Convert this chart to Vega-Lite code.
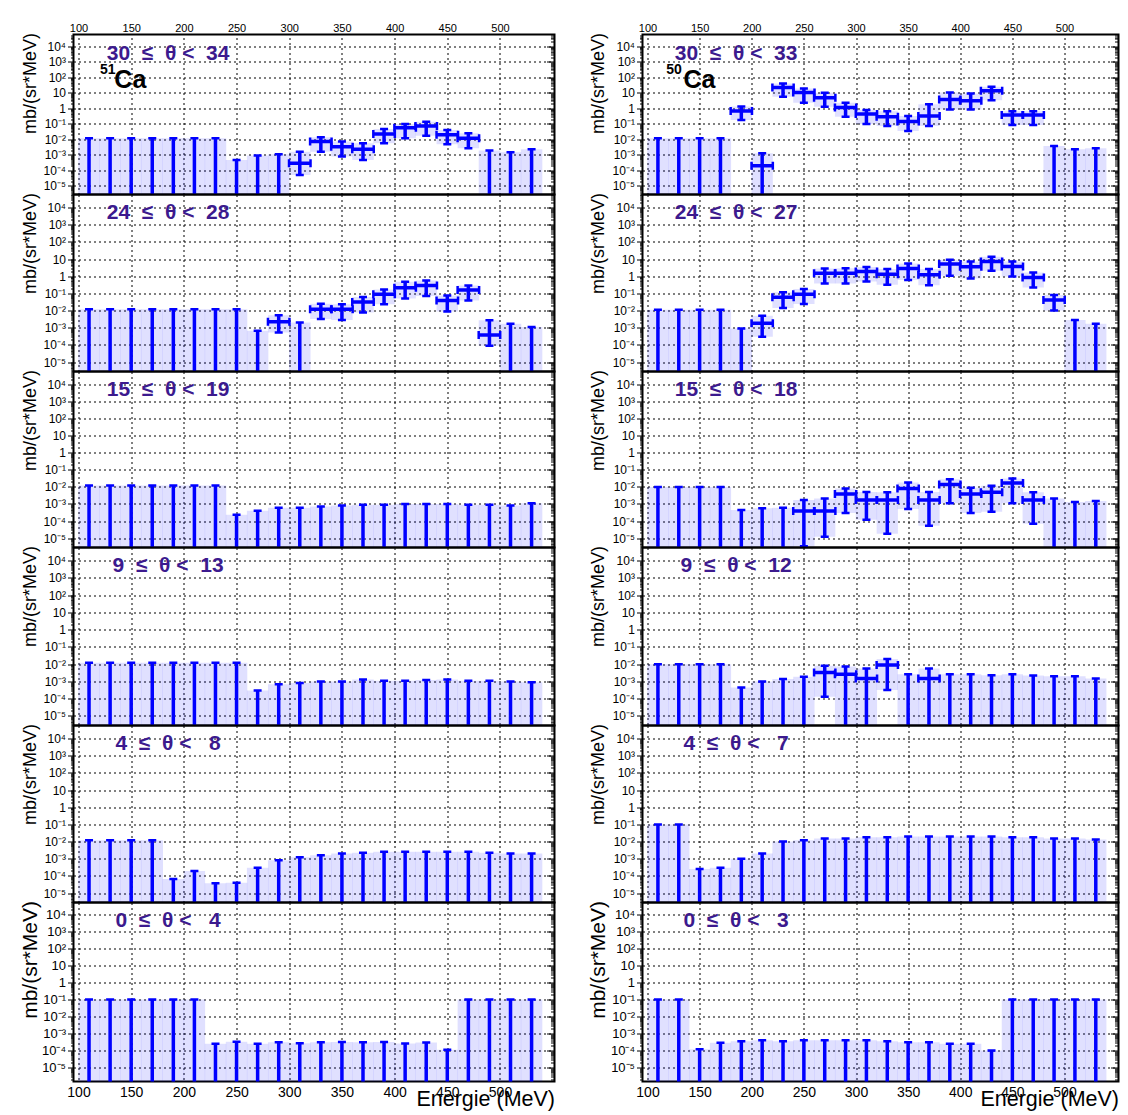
{
"$schema": "https://vega.github.io/schema/vega-lite/v6.json",
"background": "white",
"padding": {"left": 17.5, "top": 21.5, "right": 5, "bottom": 0},
"datasets": {
"labels": [
{"p":"L1","t":"30\u00a0\u00a0≤\u00a0\u00a0θ\u00a0<\u00a0\u00a034","iso":"51","el":"Ca"},
{"p":"L2","t":"24\u00a0\u00a0≤\u00a0\u00a0θ\u00a0<\u00a0\u00a028"},
{"p":"L3","t":"15\u00a0\u00a0≤\u00a0\u00a0θ\u00a0<\u00a0\u00a019"},
{"p":"L4","t":"9\u00a0\u00a0≤\u00a0\u00a0θ\u00a0<\u00a0\u00a013"},
{"p":"L5","t":"4\u00a0\u00a0≤\u00a0\u00a0θ\u00a0<\u00a0\u00a0\u00a08"},
{"p":"L6","t":"0\u00a0\u00a0≤\u00a0\u00a0θ\u00a0<\u00a0\u00a0\u00a04"},
{"p":"R1","t":"30\u00a0\u00a0≤\u00a0\u00a0θ\u00a0<\u00a0\u00a033","iso":"50","el":"Ca"},
{"p":"R2","t":"24\u00a0\u00a0≤\u00a0\u00a0θ\u00a0<\u00a0\u00a027"},
{"p":"R3","t":"15\u00a0\u00a0≤\u00a0\u00a0θ\u00a0<\u00a0\u00a018"},
{"p":"R4","t":"9\u00a0\u00a0≤\u00a0\u00a0θ\u00a0<\u00a0\u00a012"},
{"p":"R5","t":"4\u00a0\u00a0≤\u00a0\u00a0θ\u00a0<\u00a0\u00a0\u00a07"},
{"p":"R6","t":"0\u00a0\u00a0≤\u00a0\u00a0θ\u00a0<\u00a0\u00a0\u00a03"}
],
"bins": [
{"p":"L1","e":110,"lo":1e-7,"hi":0.012},{"p":"L1","e":130,"lo":1e-7,"hi":0.012},{"p":"L1","e":150,"lo":1e-7,"hi":0.012},{"p":"L1","e":170,"lo":1e-7,"hi":0.012},{"p":"L1","e":190,"lo":1e-7,"hi":0.012},{"p":"L1","e":210,"lo":1e-7,"hi":0.012},{"p":"L1","e":230,"lo":1e-7,"hi":0.012},{"p":"L1","e":250,"lo":1e-7,"hi":0.00047},{"p":"L1","e":270,"lo":1e-7,"hi":0.0009},{"p":"L1","e":290,"lo":1e-7,"hi":0.0011},
{"p":"L1","e":310,"v":0.00029,"lo":0.00005,"hi":0.0016},{"p":"L1","e":330,"v":0.0072,"lo":0.0016,"hi":0.014},{"p":"L1","e":350,"v":0.0034,"lo":0.00078,"hi":0.0072},{"p":"L1","e":370,"v":0.0023,"lo":0.00047,"hi":0.0056},{"p":"L1","e":390,"v":0.022,"lo":0.0056,"hi":0.046},{"p":"L1","e":410,"v":0.057,"lo":0.012,"hi":0.1},{"p":"L1","e":430,"v":0.074,"lo":0.017,"hi":0.135},{"p":"L1","e":450,"v":0.02,"lo":0.0049,"hi":0.041},{"p":"L1","e":470,"v":0.012,"lo":0.0027,"hi":0.025},
{"p":"L1","e":490,"lo":1e-7,"hi":0.0019},{"p":"L1","e":510,"lo":1e-7,"hi":0.0015},{"p":"L1","e":530,"lo":1e-7,"hi":0.0023},

{"p":"L2","e":110,"lo":1e-7,"hi":0.012},{"p":"L2","e":130,"lo":1e-7,"hi":0.012},{"p":"L2","e":150,"lo":1e-7,"hi":0.012},{"p":"L2","e":170,"lo":1e-7,"hi":0.012},{"p":"L2","e":190,"lo":1e-7,"hi":0.012},{"p":"L2","e":210,"lo":1e-7,"hi":0.012},{"p":"L2","e":230,"lo":1e-7,"hi":0.012},{"p":"L2","e":250,"lo":1e-7,"hi":0.012},{"p":"L2","e":270,"lo":1e-7,"hi":0.00066},
{"p":"L2","e":290,"v":0.0022,"lo":0.00052,"hi":0.0054},{"p":"L2","e":310,"lo":1e-7,"hi":0.002},{"p":"L2","e":330,"v":0.012,"lo":0.0032,"hi":0.025},{"p":"L2","e":350,"v":0.012,"lo":0.0028,"hi":0.023},{"p":"L2","e":370,"v":0.032,"lo":0.0076,"hi":0.062},{"p":"L2","e":390,"v":0.088,"lo":0.023,"hi":0.17},{"p":"L2","e":410,"v":0.21,"lo":0.051,"hi":0.48},{"p":"L2","e":430,"v":0.29,"lo":0.071,"hi":0.56},{"p":"L2","e":450,"v":0.039,"lo":0.0087,"hi":0.076},{"p":"L2","e":470,"v":0.155,"lo":0.039,"hi":0.29},{"p":"L2","e":490,"v":0.00037,"lo":0.000089,"hi":0.00275},
{"p":"L2","e":510,"lo":1e-7,"hi":0.0017},{"p":"L2","e":530,"lo":1e-7,"hi":0.0011},

{"p":"L3","e":110,"lo":1e-7,"hi":0.012},{"p":"L3","e":130,"lo":1e-7,"hi":0.012},{"p":"L3","e":150,"lo":1e-7,"hi":0.012},{"p":"L3","e":170,"lo":1e-7,"hi":0.012},{"p":"L3","e":190,"lo":1e-7,"hi":0.012},{"p":"L3","e":210,"lo":1e-7,"hi":0.012},{"p":"L3","e":230,"lo":1e-7,"hi":0.012},{"p":"L3","e":250,"lo":1e-7,"hi":0.00023},{"p":"L3","e":270,"lo":1e-7,"hi":0.0004},{"p":"L3","e":290,"lo":1e-7,"hi":0.0006},{"p":"L3","e":310,"lo":1e-7,"hi":0.0006},{"p":"L3","e":330,"lo":1e-7,"hi":0.0007},{"p":"L3","e":350,"lo":1e-7,"hi":0.0008},{"p":"L3","e":370,"lo":1e-7,"hi":0.0009},{"p":"L3","e":390,"lo":1e-7,"hi":0.0009},{"p":"L3","e":410,"lo":1e-7,"hi":0.001},{"p":"L3","e":430,"lo":1e-7,"hi":0.001},{"p":"L3","e":450,"lo":1e-7,"hi":0.001},{"p":"L3","e":470,"lo":1e-7,"hi":0.0009},{"p":"L3","e":490,"lo":1e-7,"hi":0.0009},{"p":"L3","e":510,"lo":1e-7,"hi":0.0008},{"p":"L3","e":530,"lo":1e-7,"hi":0.0011},

{"p":"L4","e":110,"lo":1e-7,"hi":0.012},{"p":"L4","e":130,"lo":1e-7,"hi":0.012},{"p":"L4","e":150,"lo":1e-7,"hi":0.012},{"p":"L4","e":170,"lo":1e-7,"hi":0.012},{"p":"L4","e":190,"lo":1e-7,"hi":0.012},{"p":"L4","e":210,"lo":1e-7,"hi":0.012},{"p":"L4","e":230,"lo":1e-7,"hi":0.012},{"p":"L4","e":250,"lo":1e-7,"hi":0.012},{"p":"L4","e":270,"lo":1e-7,"hi":0.0003},{"p":"L4","e":290,"lo":1e-7,"hi":0.0007},{"p":"L4","e":310,"lo":1e-7,"hi":0.0008},{"p":"L4","e":330,"lo":1e-7,"hi":0.001},{"p":"L4","e":350,"lo":1e-7,"hi":0.001},{"p":"L4","e":370,"lo":1e-7,"hi":0.0013},{"p":"L4","e":390,"lo":1e-7,"hi":0.0011},{"p":"L4","e":410,"lo":1e-7,"hi":0.0011},{"p":"L4","e":430,"lo":1e-7,"hi":0.0012},{"p":"L4","e":450,"lo":1e-7,"hi":0.0013},{"p":"L4","e":470,"lo":1e-7,"hi":0.0011},{"p":"L4","e":490,"lo":1e-7,"hi":0.0011},{"p":"L4","e":510,"lo":1e-7,"hi":0.001},{"p":"L4","e":530,"lo":1e-7,"hi":0.0009},

{"p":"L5","e":110,"lo":1e-7,"hi":0.012},{"p":"L5","e":130,"lo":1e-7,"hi":0.012},{"p":"L5","e":150,"lo":1e-7,"hi":0.012},{"p":"L5","e":170,"lo":1e-7,"hi":0.012},{"p":"L5","e":190,"lo":1e-7,"hi":0.000065},{"p":"L5","e":210,"lo":1e-7,"hi":0.00019},{"p":"L5","e":230,"lo":1e-7,"hi":0.000037},{"p":"L5","e":250,"lo":1e-7,"hi":0.00004},{"p":"L5","e":270,"lo":1e-7,"hi":0.0003},{"p":"L5","e":290,"lo":1e-7,"hi":0.0008},{"p":"L5","e":310,"lo":1e-7,"hi":0.0012},{"p":"L5","e":330,"lo":1e-7,"hi":0.0016},{"p":"L5","e":350,"lo":1e-7,"hi":0.002},{"p":"L5","e":370,"lo":1e-7,"hi":0.0022},{"p":"L5","e":390,"lo":1e-7,"hi":0.0025},{"p":"L5","e":410,"lo":1e-7,"hi":0.0025},{"p":"L5","e":430,"lo":1e-7,"hi":0.0025},{"p":"L5","e":450,"lo":1e-7,"hi":0.0025},{"p":"L5","e":470,"lo":1e-7,"hi":0.0025},{"p":"L5","e":490,"lo":1e-7,"hi":0.0022},{"p":"L5","e":510,"lo":1e-7,"hi":0.002},{"p":"L5","e":530,"lo":1e-7,"hi":0.002},

{"p":"L6","e":110,"lo":1e-7,"hi":0.1},{"p":"L6","e":130,"lo":1e-7,"hi":0.1},{"p":"L6","e":150,"lo":1e-7,"hi":0.1},{"p":"L6","e":170,"lo":1e-7,"hi":0.1},{"p":"L6","e":190,"lo":1e-7,"hi":0.1},{"p":"L6","e":210,"lo":1e-7,"hi":0.1},{"p":"L6","e":230,"lo":1e-7,"hi":0.00025},{"p":"L6","e":250,"lo":1e-7,"hi":0.00033},{"p":"L6","e":270,"lo":1e-7,"hi":0.00025},{"p":"L6","e":290,"lo":1e-7,"hi":0.0003},{"p":"L6","e":310,"lo":1e-7,"hi":0.00027},{"p":"L6","e":330,"lo":1e-7,"hi":0.0003},{"p":"L6","e":350,"lo":1e-7,"hi":0.00032},{"p":"L6","e":370,"lo":1e-7,"hi":0.0003},{"p":"L6","e":390,"lo":1e-7,"hi":0.00032},{"p":"L6","e":410,"lo":1e-7,"hi":0.00026},{"p":"L6","e":430,"lo":1e-7,"hi":0.00029},{"p":"L6","e":450,"lo":1e-7,"hi":0.00011},{"p":"L6","e":470,"lo":1e-7,"hi":0.1},{"p":"L6","e":490,"lo":1e-7,"hi":0.1},{"p":"L6","e":510,"lo":1e-7,"hi":0.1},{"p":"L6","e":530,"lo":1e-7,"hi":0.1},

{"p":"R1","e":110,"lo":1e-7,"hi":0.012},{"p":"R1","e":130,"lo":1e-7,"hi":0.012},{"p":"R1","e":150,"lo":1e-7,"hi":0.012},{"p":"R1","e":170,"lo":1e-7,"hi":0.012},
{"p":"R1","e":190,"v":0.69,"lo":0.18,"hi":1.3},{"p":"R1","e":210,"v":0.0002,"lo":0.000001,"hi":0.0013},{"p":"R1","e":230,"v":22,"lo":5.6,"hi":40},{"p":"R1","e":250,"v":10.5,"lo":2.3,"hi":19},{"p":"R1","e":270,"v":4.8,"lo":1.26,"hi":10},{"p":"R1","e":290,"v":1.15,"lo":0.29,"hi":2.3},{"p":"R1","e":310,"v":0.43,"lo":0.098,"hi":0.78},{"p":"R1","e":330,"v":0.29,"lo":0.072,"hi":0.66},{"p":"R1","e":350,"v":0.14,"lo":0.035,"hi":0.32},{"p":"R1","e":370,"v":0.32,"lo":0.072,"hi":1.86},{"p":"R1","e":390,"v":3.7,"lo":0.85,"hi":10.5},{"p":"R1","e":410,"v":3.1,"lo":0.85,"hi":9.1},{"p":"R1","e":430,"v":13.5,"lo":3.4,"hi":24.5},{"p":"R1","e":450,"v":0.37,"lo":0.085,"hi":0.66},{"p":"R1","e":470,"v":0.37,"lo":0.085,"hi":0.66},
{"p":"R1","e":490,"lo":1e-7,"hi":0.0038},{"p":"R1","e":510,"lo":1e-7,"hi":0.0023},{"p":"R1","e":530,"lo":1e-7,"hi":0.0027},

{"p":"R2","e":110,"lo":1e-7,"hi":0.011},{"p":"R2","e":130,"lo":1e-7,"hi":0.011},{"p":"R2","e":150,"lo":1e-7,"hi":0.011},{"p":"R2","e":170,"lo":1e-7,"hi":0.011},{"p":"R2","e":190,"lo":1e-7,"hi":0.0009},
{"p":"R2","e":210,"v":0.0018,"lo":0.0003,"hi":0.005},{"p":"R2","e":230,"v":0.059,"lo":0.014,"hi":0.115},{"p":"R2","e":250,"v":0.09,"lo":0.024,"hi":0.18},{"p":"R2","e":270,"v":1.5,"lo":0.38,"hi":2.8},{"p":"R2","e":290,"v":1.5,"lo":0.38,"hi":2.9},{"p":"R2","e":310,"v":1.9,"lo":0.5,"hi":3.5},{"p":"R2","e":330,"v":1.3,"lo":0.32,"hi":2.6},{"p":"R2","e":350,"v":2.8,"lo":0.6,"hi":5.5},{"p":"R2","e":370,"v":1.2,"lo":0.3,"hi":2.6},{"p":"R2","e":390,"v":5.1,"lo":1.07,"hi":9.1},{"p":"R2","e":410,"v":3.6,"lo":0.74,"hi":7.2},{"p":"R2","e":430,"v":7.3,"lo":2.1,"hi":13.5},{"p":"R2","e":450,"v":3.7,"lo":0.95,"hi":7.2},{"p":"R2","e":470,"v":0.85,"lo":0.22,"hi":1.65},{"p":"R2","e":490,"v":0.041,"lo":0.01,"hi":0.08},
{"p":"R2","e":510,"lo":1e-7,"hi":0.0028},{"p":"R2","e":530,"lo":1e-7,"hi":0.0017},

{"p":"R3","e":110,"lo":1e-7,"hi":0.01},{"p":"R3","e":130,"lo":1e-7,"hi":0.01},{"p":"R3","e":150,"lo":1e-7,"hi":0.01},{"p":"R3","e":170,"lo":1e-7,"hi":0.01},{"p":"R3","e":190,"lo":1e-7,"hi":0.00044},{"p":"R3","e":210,"lo":1e-7,"hi":0.00056},{"p":"R3","e":230,"lo":1e-7,"hi":0.0006},
{"p":"R3","e":250,"v":0.00039,"lo":0.0000033,"hi":0.0017},{"p":"R3","e":270,"v":0.00039,"lo":0.000012,"hi":0.0021},{"p":"R3","e":290,"v":0.0038,"lo":0.00029,"hi":0.0081},{"p":"R3","e":310,"v":0.0017,"lo":0.00012,"hi":0.0051},{"p":"R3","e":330,"v":0.0017,"lo":0.000018,"hi":0.0048},{"p":"R3","e":350,"v":0.0081,"lo":0.00051,"hi":0.018},{"p":"R3","e":370,"v":0.0017,"lo":0.000052,"hi":0.0051},{"p":"R3","e":390,"v":0.014,"lo":0.0011,"hi":0.028},{"p":"R3","e":410,"v":0.0038,"lo":0.00029,"hi":0.0089},{"p":"R3","e":430,"v":0.0048,"lo":0.00035,"hi":0.0115},{"p":"R3","e":450,"v":0.017,"lo":0.0011,"hi":0.031},{"p":"R3","e":470,"v":0.0017,"lo":0.000069,"hi":0.0048},
{"p":"R3","e":490,"lo":1e-7,"hi":0.0021},{"p":"R3","e":510,"lo":1e-7,"hi":0.0013},{"p":"R3","e":530,"lo":1e-7,"hi":0.0015},

{"p":"R4","e":110,"lo":1e-7,"hi":0.01},{"p":"R4","e":130,"lo":1e-7,"hi":0.01},{"p":"R4","e":150,"lo":1e-7,"hi":0.01},{"p":"R4","e":170,"lo":1e-7,"hi":0.01},{"p":"R4","e":190,"lo":1e-7,"hi":0.00045},{"p":"R4","e":210,"lo":1e-7,"hi":0.001},{"p":"R4","e":230,"lo":1e-7,"hi":0.0014},{"p":"R4","e":250,"lo":1e-7,"hi":0.0019},
{"p":"R4","e":270,"v":0.0033,"lo":0.00013,"hi":0.0081},{"p":"R4","e":290,"v":0.0026,"lo":0.000001,"hi":0.0074},{"p":"R4","e":310,"v":0.0015,"lo":0.000001,"hi":0.0056},{"p":"R4","e":330,"v":0.0089,"lo":0.00032,"hi":0.02},{"p":"R4","e":350,"lo":1e-7,"hi":0.0026},{"p":"R4","e":370,"v":0.0015,"lo":0.000001,"hi":0.0056},
{"p":"R4","e":390,"lo":1e-7,"hi":0.0026},{"p":"R4","e":410,"lo":1e-7,"hi":0.0026},{"p":"R4","e":430,"lo":1e-7,"hi":0.0023},{"p":"R4","e":450,"lo":1e-7,"hi":0.0026},{"p":"R4","e":470,"lo":1e-7,"hi":0.0022},{"p":"R4","e":490,"lo":1e-7,"hi":0.002},{"p":"R4","e":510,"lo":1e-7,"hi":0.002},{"p":"R4","e":530,"lo":1e-7,"hi":0.0015},

{"p":"R5","e":110,"lo":1e-7,"hi":0.1},{"p":"R5","e":130,"lo":1e-7,"hi":0.1},{"p":"R5","e":150,"lo":1e-7,"hi":0.00025},{"p":"R5","e":170,"lo":1e-7,"hi":0.0003},{"p":"R5","e":190,"lo":1e-7,"hi":0.001},{"p":"R5","e":210,"lo":1e-7,"hi":0.002},{"p":"R5","e":230,"lo":1e-7,"hi":0.01},{"p":"R5","e":250,"lo":1e-7,"hi":0.012},{"p":"R5","e":270,"lo":1e-7,"hi":0.015},{"p":"R5","e":290,"lo":1e-7,"hi":0.015},{"p":"R5","e":310,"lo":1e-7,"hi":0.018},{"p":"R5","e":330,"lo":1e-7,"hi":0.018},{"p":"R5","e":350,"lo":1e-7,"hi":0.02},{"p":"R5","e":370,"lo":1e-7,"hi":0.02},{"p":"R5","e":390,"lo":1e-7,"hi":0.02},{"p":"R5","e":410,"lo":1e-7,"hi":0.02},{"p":"R5","e":430,"lo":1e-7,"hi":0.02},{"p":"R5","e":450,"lo":1e-7,"hi":0.018},{"p":"R5","e":470,"lo":1e-7,"hi":0.018},{"p":"R5","e":490,"lo":1e-7,"hi":0.015},{"p":"R5","e":510,"lo":1e-7,"hi":0.015},{"p":"R5","e":530,"lo":1e-7,"hi":0.013},

{"p":"R6","e":110,"lo":1e-7,"hi":0.1},{"p":"R6","e":130,"lo":1e-7,"hi":0.1},{"p":"R6","e":150,"lo":1e-7,"hi":0.00012},{"p":"R6","e":170,"lo":1e-7,"hi":0.00028},{"p":"R6","e":190,"lo":1e-7,"hi":0.00035},{"p":"R6","e":210,"lo":1e-7,"hi":0.0004},{"p":"R6","e":230,"lo":1e-7,"hi":0.00035},{"p":"R6","e":250,"lo":1e-7,"hi":0.0004},{"p":"R6","e":270,"lo":1e-7,"hi":0.0004},{"p":"R6","e":290,"lo":1e-7,"hi":0.0004},{"p":"R6","e":310,"lo":1e-7,"hi":0.0004},{"p":"R6","e":330,"lo":1e-7,"hi":0.00035},{"p":"R6","e":350,"lo":1e-7,"hi":0.0003},{"p":"R6","e":370,"lo":1e-7,"hi":0.0003},{"p":"R6","e":390,"lo":1e-7,"hi":0.00025},{"p":"R6","e":410,"lo":1e-7,"hi":0.00025},{"p":"R6","e":430,"lo":1e-7,"hi":0.0001},{"p":"R6","e":450,"lo":1e-7,"hi":0.1},{"p":"R6","e":470,"lo":1e-7,"hi":0.1},{"p":"R6","e":490,"lo":1e-7,"hi":0.1},{"p":"R6","e":510,"lo":1e-7,"hi":0.1},{"p":"R6","e":530,"lo":1e-7,"hi":0.1}
]
},
"data": {"name": "bins"},
"columns": 2,
"spacing": {"row": 0, "column": 88},
"bounds": "flush",
"concat": [
{"width":481,"height":160,"transform":[{"filter":"datum.p=='L1'"}],"resolve":{"axis":{"x":"independent","y":"independent"}},
"layer":[
{"mark":{"type":"bar","width":21.5,"fill":"#0000ff","fillOpacity":0.12,"clip":true},
"encoding":{"x":{"field":"e","type":"quantitative","scale":{"domain":[100,547],"nice":false,"zero":false},"axis":{"orient":"top","values":[100,150,200,250,300,350,400,450,500],"grid":true,"ticks":false,"labelFontSize":11,"labelPadding":1,"title":null}},
"y":{"field":"hi","type":"quantitative","scale":{"type":"log","domain":[2.8e-6,5.8e4],"nice":false},"axis":{"orient":"left","tickCount":100,"grid":true,"gridOpacity":{"condition":{"test":"abs(log(datum.value)/LN10-round(log(datum.value)/LN10))<0.001","value":1},"value":0},"tickSize":{"condition":{"test":"abs(log(datum.value)/LN10-round(log(datum.value)/LN10))<0.001","value":6},"value":3},"labelExpr":"abs(log(datum.value)/LN10-round(log(datum.value)/LN10))<0.001 ? (round(log(datum.value)/LN10)==0 ? '1' : round(log(datum.value)/LN10)==1 ? '10' : '10'+(datum.value<1 ? '⁻' : '')+['⁰','¹','²','³','⁴','⁵','⁶','⁷','⁸','⁹'][abs(round(log(datum.value)/LN10))]) : ''","labelFontSize":12,"labelPadding":2,"title":"mb/(sr*MeV)","titleFontSize":18,"titleAngle":-90,"titleX":-43,"titleY":-2,"titleAlign":"right","titleBaseline":"middle"}},
"y2":{"field":"lo"}}},
{"mark":{"type":"rule","stroke":"#0000ff","strokeWidth":3.5,"clip":true},"encoding":{"x":{"field":"e","type":"quantitative","axis":null},"y":{"field":"lo","type":"quantitative","axis":{"orient":"right","tickCount":100,"grid":false,"labels":false,"title":null,"offset":-8,"tickSize":8,"tickOpacity":{"condition":{"test":"abs(log(datum.value)/LN10-round(log(datum.value)/LN10))<0.001","value":1},"value":0}}},"y2":{"field":"hi"}}},
{"transform":[{"filter":"isValid(datum.v)"}],"mark":{"type":"tick","orient":"horizontal","size":21.5,"thickness":3.5,"clip":true},"encoding":{"x":{"field":"e","type":"quantitative","axis":null},"y":{"field":"v","type":"quantitative","axis":null}}},
{"mark":{"type":"tick","orient":"horizontal","size":8,"thickness":2.5,"clip":true},"encoding":{"x":{"field":"e","type":"quantitative","axis":null},"y":{"field":"hi","type":"quantitative","axis":{"orient":"right","tickCount":100,"grid":false,"labels":false,"title":null,"offset":-4,"tickSize":4,"tickOpacity":{"condition":{"test":"abs(log(datum.value)/LN10-round(log(datum.value)/LN10))<0.001","value":0},"value":1}}}}},
{"transform":[{"filter":"isValid(datum.v)"}],"mark":{"type":"tick","orient":"horizontal","size":8,"thickness":2.5,"clip":true},"encoding":{"x":{"field":"e","type":"quantitative","axis":null},"y":{"field":"lo","type":"quantitative","axis":null}}},
{"transform":[{"filter":"isValid(datum.v)"}],"mark":{"type":"tick","orient":"vertical","size":8,"thickness":2.5,"xOffset":-10.75,"clip":true},"encoding":{"x":{"field":"e","type":"quantitative","axis":null},"y":{"field":"v","type":"quantitative","axis":null}}},
{"transform":[{"filter":"isValid(datum.v)"}],"mark":{"type":"tick","orient":"vertical","size":8,"thickness":2.5,"xOffset":10.75,"clip":true},"encoding":{"x":{"field":"e","type":"quantitative","axis":null},"y":{"field":"v","type":"quantitative","axis":null}}},
{"data":{"name":"labels"},"transform":[{"filter":"datum.p=='L1'"}],"mark":{"type":"text","fontSize":21,"fontWeight":"bold","color":"#3c1a8e","align":"center","baseline":"alphabetic"},"encoding":{"x":{"datum":185,"type":"quantitative","axis":null},"y":{"datum":1400,"type":"quantitative","axis":null},"text":{"field":"t"}}},
{"data":{"name":"labels"},"transform":[{"filter":"datum.p=='L1'"}],"mark":{"type":"text","fontSize":14,"fontWeight":"bold","color":"black","align":"left","baseline":"alphabetic"},"encoding":{"x":{"datum":120.3,"type":"quantitative","axis":null},"y":{"datum":174,"type":"quantitative","axis":null},"text":{"field":"iso"}}},
{"data":{"name":"labels"},"transform":[{"filter":"datum.p=='L1'"}],"mark":{"type":"text","fontSize":25,"fontWeight":"bold","color":"black","align":"left","baseline":"alphabetic"},"encoding":{"x":{"datum":134,"type":"quantitative","axis":null},"y":{"datum":21.6,"type":"quantitative","axis":null},"text":{"field":"el"}}}
]},
{"width":476,"height":160,"transform":[{"filter":"datum.p=='R1'"}],"resolve":{"axis":{"x":"independent","y":"independent"}},
"layer":[
{"mark":{"type":"bar","width":21.3,"fill":"#0000ff","fillOpacity":0.12,"clip":true},
"encoding":{"x":{"field":"e","type":"quantitative","scale":{"domain":[100,547],"nice":false,"zero":false},"axis":{"orient":"top","values":[100,150,200,250,300,350,400,450,500],"grid":true,"ticks":false,"labelFontSize":11,"labelPadding":1,"title":null}},
"y":{"field":"hi","type":"quantitative","scale":{"type":"log","domain":[2.8e-6,5.8e4],"nice":false},"axis":{"orient":"left","tickCount":100,"grid":true,"gridOpacity":{"condition":{"test":"abs(log(datum.value)/LN10-round(log(datum.value)/LN10))<0.001","value":1},"value":0},"tickSize":{"condition":{"test":"abs(log(datum.value)/LN10-round(log(datum.value)/LN10))<0.001","value":6},"value":3},"labelExpr":"abs(log(datum.value)/LN10-round(log(datum.value)/LN10))<0.001 ? (round(log(datum.value)/LN10)==0 ? '1' : round(log(datum.value)/LN10)==1 ? '10' : '10'+(datum.value<1 ? '⁻' : '')+['⁰','¹','²','³','⁴','⁵','⁶','⁷','⁸','⁹'][abs(round(log(datum.value)/LN10))]) : ''","labelFontSize":12,"labelPadding":2,"title":"mb/(sr*MeV)","titleFontSize":18,"titleAngle":-90,"titleX":-44,"titleY":-2,"titleAlign":"right","titleBaseline":"middle"}},
"y2":{"field":"lo"}}},
{"mark":{"type":"rule","stroke":"#0000ff","strokeWidth":3.5,"clip":true},"encoding":{"x":{"field":"e","type":"quantitative","axis":null},"y":{"field":"lo","type":"quantitative","axis":{"orient":"right","tickCount":100,"grid":false,"labels":false,"title":null,"offset":-8,"tickSize":8,"tickOpacity":{"condition":{"test":"abs(log(datum.value)/LN10-round(log(datum.value)/LN10))<0.001","value":1},"value":0}}},"y2":{"field":"hi"}}},
{"transform":[{"filter":"isValid(datum.v)"}],"mark":{"type":"tick","orient":"horizontal","size":21.3,"thickness":3.5,"clip":true},"encoding":{"x":{"field":"e","type":"quantitative","axis":null},"y":{"field":"v","type":"quantitative","axis":null}}},
{"mark":{"type":"tick","orient":"horizontal","size":8,"thickness":2.5,"clip":true},"encoding":{"x":{"field":"e","type":"quantitative","axis":null},"y":{"field":"hi","type":"quantitative","axis":{"orient":"right","tickCount":100,"grid":false,"labels":false,"title":null,"offset":-4,"tickSize":4,"tickOpacity":{"condition":{"test":"abs(log(datum.value)/LN10-round(log(datum.value)/LN10))<0.001","value":0},"value":1}}}}},
{"transform":[{"filter":"isValid(datum.v)"}],"mark":{"type":"tick","orient":"horizontal","size":8,"thickness":2.5,"clip":true},"encoding":{"x":{"field":"e","type":"quantitative","axis":null},"y":{"field":"lo","type":"quantitative","axis":null}}},
{"transform":[{"filter":"isValid(datum.v)"}],"mark":{"type":"tick","orient":"vertical","size":8,"thickness":2.5,"xOffset":-10.65,"clip":true},"encoding":{"x":{"field":"e","type":"quantitative","axis":null},"y":{"field":"v","type":"quantitative","axis":null}}},
{"transform":[{"filter":"isValid(datum.v)"}],"mark":{"type":"tick","orient":"vertical","size":8,"thickness":2.5,"xOffset":10.65,"clip":true},"encoding":{"x":{"field":"e","type":"quantitative","axis":null},"y":{"field":"v","type":"quantitative","axis":null}}},
{"data":{"name":"labels"},"transform":[{"filter":"datum.p=='R1'"}],"mark":{"type":"text","fontSize":21,"fontWeight":"bold","color":"#3c1a8e","align":"center","baseline":"alphabetic"},"encoding":{"x":{"datum":185,"type":"quantitative","axis":null},"y":{"datum":1400,"type":"quantitative","axis":null},"text":{"field":"t"}}},
{"data":{"name":"labels"},"transform":[{"filter":"datum.p=='R1'"}],"mark":{"type":"text","fontSize":14,"fontWeight":"bold","color":"black","align":"left","baseline":"alphabetic"},"encoding":{"x":{"datum":118,"type":"quantitative","axis":null},"y":{"datum":174,"type":"quantitative","axis":null},"text":{"field":"iso"}}},
{"data":{"name":"labels"},"transform":[{"filter":"datum.p=='R1'"}],"mark":{"type":"text","fontSize":25,"fontWeight":"bold","color":"black","align":"left","baseline":"alphabetic"},"encoding":{"x":{"datum":134.5,"type":"quantitative","axis":null},"y":{"datum":21.6,"type":"quantitative","axis":null},"text":{"field":"el"}}}
]},
{"width":481,"height":177,"transform":[{"filter":"datum.p=='L2'"}],"resolve":{"axis":{"x":"independent","y":"independent"}},
"layer":[
{"mark":{"type":"bar","width":21.5,"fill":"#0000ff","fillOpacity":0.12,"clip":true},
"encoding":{"x":{"field":"e","type":"quantitative","scale":{"domain":[100,547],"nice":false,"zero":false},"axis":{"orient":"bottom","values":[100,150,200,250,300,350,400,450,500],"grid":true,"ticks":false,"labels":false,"title":null}},
"y":{"field":"hi","type":"quantitative","scale":{"type":"log","domain":[2.8e-6,5.8e4],"nice":false},"axis":{"orient":"left","tickCount":100,"grid":true,"gridOpacity":{"condition":{"test":"abs(log(datum.value)/LN10-round(log(datum.value)/LN10))<0.001","value":1},"value":0},"tickSize":{"condition":{"test":"abs(log(datum.value)/LN10-round(log(datum.value)/LN10))<0.001","value":6},"value":3},"labelExpr":"abs(log(datum.value)/LN10-round(log(datum.value)/LN10))<0.001 ? (round(log(datum.value)/LN10)==0 ? '1' : round(log(datum.value)/LN10)==1 ? '10' : '10'+(datum.value<1 ? '⁻' : '')+['⁰','¹','²','³','⁴','⁵','⁶','⁷','⁸','⁹'][abs(round(log(datum.value)/LN10))]) : ''","labelFontSize":12,"labelPadding":2,"title":"mb/(sr*MeV)","titleFontSize":18,"titleAngle":-90,"titleX":-43,"titleY":-2,"titleAlign":"right","titleBaseline":"middle"}},
"y2":{"field":"lo"}}},
{"mark":{"type":"rule","stroke":"#0000ff","strokeWidth":3.5,"clip":true},"encoding":{"x":{"field":"e","type":"quantitative","axis":null},"y":{"field":"lo","type":"quantitative","axis":{"orient":"right","tickCount":100,"grid":false,"labels":false,"title":null,"offset":-8,"tickSize":8,"tickOpacity":{"condition":{"test":"abs(log(datum.value)/LN10-round(log(datum.value)/LN10))<0.001","value":1},"value":0}}},"y2":{"field":"hi"}}},
{"transform":[{"filter":"isValid(datum.v)"}],"mark":{"type":"tick","orient":"horizontal","size":21.5,"thickness":3.5,"clip":true},"encoding":{"x":{"field":"e","type":"quantitative","axis":null},"y":{"field":"v","type":"quantitative","axis":null}}},
{"mark":{"type":"tick","orient":"horizontal","size":8,"thickness":2.5,"clip":true},"encoding":{"x":{"field":"e","type":"quantitative","axis":null},"y":{"field":"hi","type":"quantitative","axis":{"orient":"right","tickCount":100,"grid":false,"labels":false,"title":null,"offset":-4,"tickSize":4,"tickOpacity":{"condition":{"test":"abs(log(datum.value)/LN10-round(log(datum.value)/LN10))<0.001","value":0},"value":1}}}}},
{"transform":[{"filter":"isValid(datum.v)"}],"mark":{"type":"tick","orient":"horizontal","size":8,"thickness":2.5,"clip":true},"encoding":{"x":{"field":"e","type":"quantitative","axis":null},"y":{"field":"lo","type":"quantitative","axis":null}}},
{"transform":[{"filter":"isValid(datum.v)"}],"mark":{"type":"tick","orient":"vertical","size":8,"thickness":2.5,"xOffset":-10.75,"clip":true},"encoding":{"x":{"field":"e","type":"quantitative","axis":null},"y":{"field":"v","type":"quantitative","axis":null}}},
{"transform":[{"filter":"isValid(datum.v)"}],"mark":{"type":"tick","orient":"vertical","size":8,"thickness":2.5,"xOffset":10.75,"clip":true},"encoding":{"x":{"field":"e","type":"quantitative","axis":null},"y":{"field":"v","type":"quantitative","axis":null}}},
{"data":{"name":"labels"},"transform":[{"filter":"datum.p=='L2'"}],"mark":{"type":"text","fontSize":21,"fontWeight":"bold","color":"#3c1a8e","align":"center","baseline":"alphabetic"},"encoding":{"x":{"datum":185,"type":"quantitative","axis":null},"y":{"datum":2100,"type":"quantitative","axis":null},"text":{"field":"t"}}}
]},
{"width":476,"height":177,"transform":[{"filter":"datum.p=='R2'"}],"resolve":{"axis":{"x":"independent","y":"independent"}},
"layer":[
{"mark":{"type":"bar","width":21.3,"fill":"#0000ff","fillOpacity":0.12,"clip":true},
"encoding":{"x":{"field":"e","type":"quantitative","scale":{"domain":[100,547],"nice":false,"zero":false},"axis":{"orient":"bottom","values":[100,150,200,250,300,350,400,450,500],"grid":true,"ticks":false,"labels":false,"title":null}},
"y":{"field":"hi","type":"quantitative","scale":{"type":"log","domain":[2.8e-6,5.8e4],"nice":false},"axis":{"orient":"left","tickCount":100,"grid":true,"gridOpacity":{"condition":{"test":"abs(log(datum.value)/LN10-round(log(datum.value)/LN10))<0.001","value":1},"value":0},"tickSize":{"condition":{"test":"abs(log(datum.value)/LN10-round(log(datum.value)/LN10))<0.001","value":6},"value":3},"labelExpr":"abs(log(datum.value)/LN10-round(log(datum.value)/LN10))<0.001 ? (round(log(datum.value)/LN10)==0 ? '1' : round(log(datum.value)/LN10)==1 ? '10' : '10'+(datum.value<1 ? '⁻' : '')+['⁰','¹','²','³','⁴','⁵','⁶','⁷','⁸','⁹'][abs(round(log(datum.value)/LN10))]) : ''","labelFontSize":12,"labelPadding":2,"title":"mb/(sr*MeV)","titleFontSize":18,"titleAngle":-90,"titleX":-44,"titleY":-2,"titleAlign":"right","titleBaseline":"middle"}},
"y2":{"field":"lo"}}},
{"mark":{"type":"rule","stroke":"#0000ff","strokeWidth":3.5,"clip":true},"encoding":{"x":{"field":"e","type":"quantitative","axis":null},"y":{"field":"lo","type":"quantitative","axis":{"orient":"right","tickCount":100,"grid":false,"labels":false,"title":null,"offset":-8,"tickSize":8,"tickOpacity":{"condition":{"test":"abs(log(datum.value)/LN10-round(log(datum.value)/LN10))<0.001","value":1},"value":0}}},"y2":{"field":"hi"}}},
{"transform":[{"filter":"isValid(datum.v)"}],"mark":{"type":"tick","orient":"horizontal","size":21.3,"thickness":3.5,"clip":true},"encoding":{"x":{"field":"e","type":"quantitative","axis":null},"y":{"field":"v","type":"quantitative","axis":null}}},
{"mark":{"type":"tick","orient":"horizontal","size":8,"thickness":2.5,"clip":true},"encoding":{"x":{"field":"e","type":"quantitative","axis":null},"y":{"field":"hi","type":"quantitative","axis":{"orient":"right","tickCount":100,"grid":false,"labels":false,"title":null,"offset":-4,"tickSize":4,"tickOpacity":{"condition":{"test":"abs(log(datum.value)/LN10-round(log(datum.value)/LN10))<0.001","value":0},"value":1}}}}},
{"transform":[{"filter":"isValid(datum.v)"}],"mark":{"type":"tick","orient":"horizontal","size":8,"thickness":2.5,"clip":true},"encoding":{"x":{"field":"e","type":"quantitative","axis":null},"y":{"field":"lo","type":"quantitative","axis":null}}},
{"transform":[{"filter":"isValid(datum.v)"}],"mark":{"type":"tick","orient":"vertical","size":8,"thickness":2.5,"xOffset":-10.65,"clip":true},"encoding":{"x":{"field":"e","type":"quantitative","axis":null},"y":{"field":"v","type":"quantitative","axis":null}}},
{"transform":[{"filter":"isValid(datum.v)"}],"mark":{"type":"tick","orient":"vertical","size":8,"thickness":2.5,"xOffset":10.65,"clip":true},"encoding":{"x":{"field":"e","type":"quantitative","axis":null},"y":{"field":"v","type":"quantitative","axis":null}}},
{"data":{"name":"labels"},"transform":[{"filter":"datum.p=='R2'"}],"mark":{"type":"text","fontSize":21,"fontWeight":"bold","color":"#3c1a8e","align":"center","baseline":"alphabetic"},"encoding":{"x":{"datum":185,"type":"quantitative","axis":null},"y":{"datum":2100,"type":"quantitative","axis":null},"text":{"field":"t"}}}
]},
{"width":481,"height":176,"transform":[{"filter":"datum.p=='L3'"}],"resolve":{"axis":{"x":"independent","y":"independent"}},
"layer":[
{"mark":{"type":"bar","width":21.5,"fill":"#0000ff","fillOpacity":0.12,"clip":true},
"encoding":{"x":{"field":"e","type":"quantitative","scale":{"domain":[100,547],"nice":false,"zero":false},"axis":{"orient":"bottom","values":[100,150,200,250,300,350,400,450,500],"grid":true,"ticks":false,"labels":false,"title":null}},
"y":{"field":"hi","type":"quantitative","scale":{"type":"log","domain":[2.8e-6,5.8e4],"nice":false},"axis":{"orient":"left","tickCount":100,"grid":true,"gridOpacity":{"condition":{"test":"abs(log(datum.value)/LN10-round(log(datum.value)/LN10))<0.001","value":1},"value":0},"tickSize":{"condition":{"test":"abs(log(datum.value)/LN10-round(log(datum.value)/LN10))<0.001","value":6},"value":3},"labelExpr":"abs(log(datum.value)/LN10-round(log(datum.value)/LN10))<0.001 ? (round(log(datum.value)/LN10)==0 ? '1' : round(log(datum.value)/LN10)==1 ? '10' : '10'+(datum.value<1 ? '⁻' : '')+['⁰','¹','²','³','⁴','⁵','⁶','⁷','⁸','⁹'][abs(round(log(datum.value)/LN10))]) : ''","labelFontSize":12,"labelPadding":2,"title":"mb/(sr*MeV)","titleFontSize":18,"titleAngle":-90,"titleX":-43,"titleY":-2,"titleAlign":"right","titleBaseline":"middle"}},
"y2":{"field":"lo"}}},
{"mark":{"type":"rule","stroke":"#0000ff","strokeWidth":3.5,"clip":true},"encoding":{"x":{"field":"e","type":"quantitative","axis":null},"y":{"field":"lo","type":"quantitative","axis":{"orient":"right","tickCount":100,"grid":false,"labels":false,"title":null,"offset":-8,"tickSize":8,"tickOpacity":{"condition":{"test":"abs(log(datum.value)/LN10-round(log(datum.value)/LN10))<0.001","value":1},"value":0}}},"y2":{"field":"hi"}}},
{"mark":{"type":"tick","orient":"horizontal","size":8,"thickness":2.5,"clip":true},"encoding":{"x":{"field":"e","type":"quantitative","axis":null},"y":{"field":"hi","type":"quantitative","axis":{"orient":"right","tickCount":100,"grid":false,"labels":false,"title":null,"offset":-4,"tickSize":4,"tickOpacity":{"condition":{"test":"abs(log(datum.value)/LN10-round(log(datum.value)/LN10))<0.001","value":0},"value":1}}}}},
{"data":{"name":"labels"},"transform":[{"filter":"datum.p=='L3'"}],"mark":{"type":"text","fontSize":21,"fontWeight":"bold","color":"#3c1a8e","align":"center","baseline":"alphabetic"},"encoding":{"x":{"datum":185,"type":"quantitative","axis":null},"y":{"datum":2100,"type":"quantitative","axis":null},"text":{"field":"t"}}}
]},
{"width":476,"height":176,"transform":[{"filter":"datum.p=='R3'"}],"resolve":{"axis":{"x":"independent","y":"independent"}},
"layer":[
{"mark":{"type":"bar","width":21.3,"fill":"#0000ff","fillOpacity":0.12,"clip":true},
"encoding":{"x":{"field":"e","type":"quantitative","scale":{"domain":[100,547],"nice":false,"zero":false},"axis":{"orient":"bottom","values":[100,150,200,250,300,350,400,450,500],"grid":true,"ticks":false,"labels":false,"title":null}},
"y":{"field":"hi","type":"quantitative","scale":{"type":"log","domain":[2.8e-6,5.8e4],"nice":false},"axis":{"orient":"left","tickCount":100,"grid":true,"gridOpacity":{"condition":{"test":"abs(log(datum.value)/LN10-round(log(datum.value)/LN10))<0.001","value":1},"value":0},"tickSize":{"condition":{"test":"abs(log(datum.value)/LN10-round(log(datum.value)/LN10))<0.001","value":6},"value":3},"labelExpr":"abs(log(datum.value)/LN10-round(log(datum.value)/LN10))<0.001 ? (round(log(datum.value)/LN10)==0 ? '1' : round(log(datum.value)/LN10)==1 ? '10' : '10'+(datum.value<1 ? '⁻' : '')+['⁰','¹','²','³','⁴','⁵','⁶','⁷','⁸','⁹'][abs(round(log(datum.value)/LN10))]) : ''","labelFontSize":12,"labelPadding":2,"title":"mb/(sr*MeV)","titleFontSize":18,"titleAngle":-90,"titleX":-44,"titleY":-2,"titleAlign":"right","titleBaseline":"middle"}},
"y2":{"field":"lo"}}},
{"mark":{"type":"rule","stroke":"#0000ff","strokeWidth":3.5,"clip":true},"encoding":{"x":{"field":"e","type":"quantitative","axis":null},"y":{"field":"lo","type":"quantitative","axis":{"orient":"right","tickCount":100,"grid":false,"labels":false,"title":null,"offset":-8,"tickSize":8,"tickOpacity":{"condition":{"test":"abs(log(datum.value)/LN10-round(log(datum.value)/LN10))<0.001","value":1},"value":0}}},"y2":{"field":"hi"}}},
{"transform":[{"filter":"isValid(datum.v)"}],"mark":{"type":"tick","orient":"horizontal","size":21.3,"thickness":3.5,"clip":true},"encoding":{"x":{"field":"e","type":"quantitative","axis":null},"y":{"field":"v","type":"quantitative","axis":null}}},
{"mark":{"type":"tick","orient":"horizontal","size":8,"thickness":2.5,"clip":true},"encoding":{"x":{"field":"e","type":"quantitative","axis":null},"y":{"field":"hi","type":"quantitative","axis":{"orient":"right","tickCount":100,"grid":false,"labels":false,"title":null,"offset":-4,"tickSize":4,"tickOpacity":{"condition":{"test":"abs(log(datum.value)/LN10-round(log(datum.value)/LN10))<0.001","value":0},"value":1}}}}},
{"transform":[{"filter":"isValid(datum.v)"}],"mark":{"type":"tick","orient":"horizontal","size":8,"thickness":2.5,"clip":true},"encoding":{"x":{"field":"e","type":"quantitative","axis":null},"y":{"field":"lo","type":"quantitative","axis":null}}},
{"transform":[{"filter":"isValid(datum.v)"}],"mark":{"type":"tick","orient":"vertical","size":8,"thickness":2.5,"xOffset":-10.65,"clip":true},"encoding":{"x":{"field":"e","type":"quantitative","axis":null},"y":{"field":"v","type":"quantitative","axis":null}}},
{"transform":[{"filter":"isValid(datum.v)"}],"mark":{"type":"tick","orient":"vertical","size":8,"thickness":2.5,"xOffset":10.65,"clip":true},"encoding":{"x":{"field":"e","type":"quantitative","axis":null},"y":{"field":"v","type":"quantitative","axis":null}}},
{"data":{"name":"labels"},"transform":[{"filter":"datum.p=='R3'"}],"mark":{"type":"text","fontSize":21,"fontWeight":"bold","color":"#3c1a8e","align":"center","baseline":"alphabetic"},"encoding":{"x":{"datum":185,"type":"quantitative","axis":null},"y":{"datum":2100,"type":"quantitative","axis":null},"text":{"field":"t"}}}
]},
{"width":481,"height":178,"transform":[{"filter":"datum.p=='L4'"}],"resolve":{"axis":{"x":"independent","y":"independent"}},
"layer":[
{"mark":{"type":"bar","width":21.5,"fill":"#0000ff","fillOpacity":0.12,"clip":true},
"encoding":{"x":{"field":"e","type":"quantitative","scale":{"domain":[100,547],"nice":false,"zero":false},"axis":{"orient":"bottom","values":[100,150,200,250,300,350,400,450,500],"grid":true,"ticks":false,"labels":false,"title":null}},
"y":{"field":"hi","type":"quantitative","scale":{"type":"log","domain":[2.8e-6,5.8e4],"nice":false},"axis":{"orient":"left","tickCount":100,"grid":true,"gridOpacity":{"condition":{"test":"abs(log(datum.value)/LN10-round(log(datum.value)/LN10))<0.001","value":1},"value":0},"tickSize":{"condition":{"test":"abs(log(datum.value)/LN10-round(log(datum.value)/LN10))<0.001","value":6},"value":3},"labelExpr":"abs(log(datum.value)/LN10-round(log(datum.value)/LN10))<0.001 ? (round(log(datum.value)/LN10)==0 ? '1' : round(log(datum.value)/LN10)==1 ? '10' : '10'+(datum.value<1 ? '⁻' : '')+['⁰','¹','²','³','⁴','⁵','⁶','⁷','⁸','⁹'][abs(round(log(datum.value)/LN10))]) : ''","labelFontSize":12,"labelPadding":2,"title":"mb/(sr*MeV)","titleFontSize":18,"titleAngle":-90,"titleX":-43,"titleY":-2,"titleAlign":"right","titleBaseline":"middle"}},
"y2":{"field":"lo"}}},
{"mark":{"type":"rule","stroke":"#0000ff","strokeWidth":3.5,"clip":true},"encoding":{"x":{"field":"e","type":"quantitative","axis":null},"y":{"field":"lo","type":"quantitative","axis":{"orient":"right","tickCount":100,"grid":false,"labels":false,"title":null,"offset":-8,"tickSize":8,"tickOpacity":{"condition":{"test":"abs(log(datum.value)/LN10-round(log(datum.value)/LN10))<0.001","value":1},"value":0}}},"y2":{"field":"hi"}}},
{"mark":{"type":"tick","orient":"horizontal","size":8,"thickness":2.5,"clip":true},"encoding":{"x":{"field":"e","type":"quantitative","axis":null},"y":{"field":"hi","type":"quantitative","axis":{"orient":"right","tickCount":100,"grid":false,"labels":false,"title":null,"offset":-4,"tickSize":4,"tickOpacity":{"condition":{"test":"abs(log(datum.value)/LN10-round(log(datum.value)/LN10))<0.001","value":0},"value":1}}}}},
{"data":{"name":"labels"},"transform":[{"filter":"datum.p=='L4'"}],"mark":{"type":"text","fontSize":21,"fontWeight":"bold","color":"#3c1a8e","align":"center","baseline":"alphabetic"},"encoding":{"x":{"datum":185,"type":"quantitative","axis":null},"y":{"datum":2100,"type":"quantitative","axis":null},"text":{"field":"t"}}}
]},
{"width":476,"height":178,"transform":[{"filter":"datum.p=='R4'"}],"resolve":{"axis":{"x":"independent","y":"independent"}},
"layer":[
{"mark":{"type":"bar","width":21.3,"fill":"#0000ff","fillOpacity":0.12,"clip":true},
"encoding":{"x":{"field":"e","type":"quantitative","scale":{"domain":[100,547],"nice":false,"zero":false},"axis":{"orient":"bottom","values":[100,150,200,250,300,350,400,450,500],"grid":true,"ticks":false,"labels":false,"title":null}},
"y":{"field":"hi","type":"quantitative","scale":{"type":"log","domain":[2.8e-6,5.8e4],"nice":false},"axis":{"orient":"left","tickCount":100,"grid":true,"gridOpacity":{"condition":{"test":"abs(log(datum.value)/LN10-round(log(datum.value)/LN10))<0.001","value":1},"value":0},"tickSize":{"condition":{"test":"abs(log(datum.value)/LN10-round(log(datum.value)/LN10))<0.001","value":6},"value":3},"labelExpr":"abs(log(datum.value)/LN10-round(log(datum.value)/LN10))<0.001 ? (round(log(datum.value)/LN10)==0 ? '1' : round(log(datum.value)/LN10)==1 ? '10' : '10'+(datum.value<1 ? '⁻' : '')+['⁰','¹','²','³','⁴','⁵','⁶','⁷','⁸','⁹'][abs(round(log(datum.value)/LN10))]) : ''","labelFontSize":12,"labelPadding":2,"title":"mb/(sr*MeV)","titleFontSize":18,"titleAngle":-90,"titleX":-44,"titleY":-2,"titleAlign":"right","titleBaseline":"middle"}},
"y2":{"field":"lo"}}},
{"mark":{"type":"rule","stroke":"#0000ff","strokeWidth":3.5,"clip":true},"encoding":{"x":{"field":"e","type":"quantitative","axis":null},"y":{"field":"lo","type":"quantitative","axis":{"orient":"right","tickCount":100,"grid":false,"labels":false,"title":null,"offset":-8,"tickSize":8,"tickOpacity":{"condition":{"test":"abs(log(datum.value)/LN10-round(log(datum.value)/LN10))<0.001","value":1},"value":0}}},"y2":{"field":"hi"}}},
{"transform":[{"filter":"isValid(datum.v)"}],"mark":{"type":"tick","orient":"horizontal","size":21.3,"thickness":3.5,"clip":true},"encoding":{"x":{"field":"e","type":"quantitative","axis":null},"y":{"field":"v","type":"quantitative","axis":null}}},
{"mark":{"type":"tick","orient":"horizontal","size":8,"thickness":2.5,"clip":true},"encoding":{"x":{"field":"e","type":"quantitative","axis":null},"y":{"field":"hi","type":"quantitative","axis":{"orient":"right","tickCount":100,"grid":false,"labels":false,"title":null,"offset":-4,"tickSize":4,"tickOpacity":{"condition":{"test":"abs(log(datum.value)/LN10-round(log(datum.value)/LN10))<0.001","value":0},"value":1}}}}},
{"transform":[{"filter":"isValid(datum.v)"}],"mark":{"type":"tick","orient":"horizontal","size":8,"thickness":2.5,"clip":true},"encoding":{"x":{"field":"e","type":"quantitative","axis":null},"y":{"field":"lo","type":"quantitative","axis":null}}},
{"transform":[{"filter":"isValid(datum.v)"}],"mark":{"type":"tick","orient":"vertical","size":8,"thickness":2.5,"xOffset":-10.65,"clip":true},"encoding":{"x":{"field":"e","type":"quantitative","axis":null},"y":{"field":"v","type":"quantitative","axis":null}}},
{"transform":[{"filter":"isValid(datum.v)"}],"mark":{"type":"tick","orient":"vertical","size":8,"thickness":2.5,"xOffset":10.65,"clip":true},"encoding":{"x":{"field":"e","type":"quantitative","axis":null},"y":{"field":"v","type":"quantitative","axis":null}}},
{"data":{"name":"labels"},"transform":[{"filter":"datum.p=='R4'"}],"mark":{"type":"text","fontSize":21,"fontWeight":"bold","color":"#3c1a8e","align":"center","baseline":"alphabetic"},"encoding":{"x":{"datum":185,"type":"quantitative","axis":null},"y":{"datum":2100,"type":"quantitative","axis":null},"text":{"field":"t"}}}
]},
{"width":481,"height":177,"transform":[{"filter":"datum.p=='L5'"}],"resolve":{"axis":{"x":"independent","y":"independent"}},
"layer":[
{"mark":{"type":"bar","width":21.5,"fill":"#0000ff","fillOpacity":0.12,"clip":true},
"encoding":{"x":{"field":"e","type":"quantitative","scale":{"domain":[100,547],"nice":false,"zero":false},"axis":{"orient":"bottom","values":[100,150,200,250,300,350,400,450,500],"grid":true,"ticks":false,"labels":false,"title":null}},
"y":{"field":"hi","type":"quantitative","scale":{"type":"log","domain":[2.8e-6,5.8e4],"nice":false},"axis":{"orient":"left","tickCount":100,"grid":true,"gridOpacity":{"condition":{"test":"abs(log(datum.value)/LN10-round(log(datum.value)/LN10))<0.001","value":1},"value":0},"tickSize":{"condition":{"test":"abs(log(datum.value)/LN10-round(log(datum.value)/LN10))<0.001","value":6},"value":3},"labelExpr":"abs(log(datum.value)/LN10-round(log(datum.value)/LN10))<0.001 ? (round(log(datum.value)/LN10)==0 ? '1' : round(log(datum.value)/LN10)==1 ? '10' : '10'+(datum.value<1 ? '⁻' : '')+['⁰','¹','²','³','⁴','⁵','⁶','⁷','⁸','⁹'][abs(round(log(datum.value)/LN10))]) : ''","labelFontSize":12,"labelPadding":2,"title":"mb/(sr*MeV)","titleFontSize":18,"titleAngle":-90,"titleX":-43,"titleY":-2,"titleAlign":"right","titleBaseline":"middle"}},
"y2":{"field":"lo"}}},
{"mark":{"type":"rule","stroke":"#0000ff","strokeWidth":3.5,"clip":true},"encoding":{"x":{"field":"e","type":"quantitative","axis":null},"y":{"field":"lo","type":"quantitative","axis":{"orient":"right","tickCount":100,"grid":false,"labels":false,"title":null,"offset":-8,"tickSize":8,"tickOpacity":{"condition":{"test":"abs(log(datum.value)/LN10-round(log(datum.value)/LN10))<0.001","value":1},"value":0}}},"y2":{"field":"hi"}}},
{"mark":{"type":"tick","orient":"horizontal","size":8,"thickness":2.5,"clip":true},"encoding":{"x":{"field":"e","type":"quantitative","axis":null},"y":{"field":"hi","type":"quantitative","axis":{"orient":"right","tickCount":100,"grid":false,"labels":false,"title":null,"offset":-4,"tickSize":4,"tickOpacity":{"condition":{"test":"abs(log(datum.value)/LN10-round(log(datum.value)/LN10))<0.001","value":0},"value":1}}}}},
{"data":{"name":"labels"},"transform":[{"filter":"datum.p=='L5'"}],"mark":{"type":"text","fontSize":21,"fontWeight":"bold","color":"#3c1a8e","align":"center","baseline":"alphabetic"},"encoding":{"x":{"datum":185,"type":"quantitative","axis":null},"y":{"datum":2100,"type":"quantitative","axis":null},"text":{"field":"t"}}}
]},
{"width":476,"height":177,"transform":[{"filter":"datum.p=='R5'"}],"resolve":{"axis":{"x":"independent","y":"independent"}},
"layer":[
{"mark":{"type":"bar","width":21.3,"fill":"#0000ff","fillOpacity":0.12,"clip":true},
"encoding":{"x":{"field":"e","type":"quantitative","scale":{"domain":[100,547],"nice":false,"zero":false},"axis":{"orient":"bottom","values":[100,150,200,250,300,350,400,450,500],"grid":true,"ticks":false,"labels":false,"title":null}},
"y":{"field":"hi","type":"quantitative","scale":{"type":"log","domain":[2.8e-6,5.8e4],"nice":false},"axis":{"orient":"left","tickCount":100,"grid":true,"gridOpacity":{"condition":{"test":"abs(log(datum.value)/LN10-round(log(datum.value)/LN10))<0.001","value":1},"value":0},"tickSize":{"condition":{"test":"abs(log(datum.value)/LN10-round(log(datum.value)/LN10))<0.001","value":6},"value":3},"labelExpr":"abs(log(datum.value)/LN10-round(log(datum.value)/LN10))<0.001 ? (round(log(datum.value)/LN10)==0 ? '1' : round(log(datum.value)/LN10)==1 ? '10' : '10'+(datum.value<1 ? '⁻' : '')+['⁰','¹','²','³','⁴','⁵','⁶','⁷','⁸','⁹'][abs(round(log(datum.value)/LN10))]) : ''","labelFontSize":12,"labelPadding":2,"title":"mb/(sr*MeV)","titleFontSize":18,"titleAngle":-90,"titleX":-44,"titleY":-2,"titleAlign":"right","titleBaseline":"middle"}},
"y2":{"field":"lo"}}},
{"mark":{"type":"rule","stroke":"#0000ff","strokeWidth":3.5,"clip":true},"encoding":{"x":{"field":"e","type":"quantitative","axis":null},"y":{"field":"lo","type":"quantitative","axis":{"orient":"right","tickCount":100,"grid":false,"labels":false,"title":null,"offset":-8,"tickSize":8,"tickOpacity":{"condition":{"test":"abs(log(datum.value)/LN10-round(log(datum.value)/LN10))<0.001","value":1},"value":0}}},"y2":{"field":"hi"}}},
{"mark":{"type":"tick","orient":"horizontal","size":8,"thickness":2.5,"clip":true},"encoding":{"x":{"field":"e","type":"quantitative","axis":null},"y":{"field":"hi","type":"quantitative","axis":{"orient":"right","tickCount":100,"grid":false,"labels":false,"title":null,"offset":-4,"tickSize":4,"tickOpacity":{"condition":{"test":"abs(log(datum.value)/LN10-round(log(datum.value)/LN10))<0.001","value":0},"value":1}}}}},
{"data":{"name":"labels"},"transform":[{"filter":"datum.p=='R5'"}],"mark":{"type":"text","fontSize":21,"fontWeight":"bold","color":"#3c1a8e","align":"center","baseline":"alphabetic"},"encoding":{"x":{"datum":185,"type":"quantitative","axis":null},"y":{"datum":2100,"type":"quantitative","axis":null},"text":{"field":"t"}}}
]},
{"width":481,"height":179,"transform":[{"filter":"datum.p=='L6'"}],"resolve":{"axis":{"x":"independent","y":"independent"}},
"layer":[
{"mark":{"type":"bar","width":21.5,"fill":"#0000ff","fillOpacity":0.12,"clip":true},
"encoding":{"x":{"field":"e","type":"quantitative","scale":{"domain":[100,547],"nice":false,"zero":false},"axis":{"orient":"bottom","values":[100,150,200,250,300,350,400,450,500],"grid":true,"ticks":false,"labelFontSize":14,"labelPadding":4,"title":"Energie (MeV)","titleFontSize":21.5,"titleFontWeight":"normal","titleX":481,"titleY":24,"titleAlign":"right","titleBaseline":"alphabetic"}},
"y":{"field":"hi","type":"quantitative","scale":{"type":"log","domain":[1.5e-6,5e4],"nice":false},"axis":{"orient":"left","tickCount":100,"grid":true,"gridOpacity":{"condition":{"test":"abs(log(datum.value)/LN10-round(log(datum.value)/LN10))<0.001","value":1},"value":0},"tickSize":{"condition":{"test":"abs(log(datum.value)/LN10-round(log(datum.value)/LN10))<0.001","value":6},"value":3},"labelExpr":"abs(log(datum.value)/LN10-round(log(datum.value)/LN10))<0.001 ? (round(log(datum.value)/LN10)==0 ? '1' : round(log(datum.value)/LN10)==1 ? '10' : '10'+(datum.value<1 ? '⁻' : '')+['⁰','¹','²','³','⁴','⁵','⁶','⁷','⁸','⁹'][abs(round(log(datum.value)/LN10))]) : ''","labelFontSize":13,"labelPadding":2,"title":"mb/(sr*MeV)","titleFontSize":21,"titleAngle":-90,"titleX":-43,"titleY":-2,"titleAlign":"right","titleBaseline":"middle"}},
"y2":{"field":"lo"}}},
{"mark":{"type":"rule","stroke":"#0000ff","strokeWidth":3.5,"clip":true},"encoding":{"x":{"field":"e","type":"quantitative","axis":null},"y":{"field":"lo","type":"quantitative","axis":{"orient":"right","tickCount":100,"grid":false,"labels":false,"title":null,"offset":-8,"tickSize":8,"tickOpacity":{"condition":{"test":"abs(log(datum.value)/LN10-round(log(datum.value)/LN10))<0.001","value":1},"value":0}}},"y2":{"field":"hi"}}},
{"mark":{"type":"tick","orient":"horizontal","size":8,"thickness":2.5,"clip":true},"encoding":{"x":{"field":"e","type":"quantitative","axis":null},"y":{"field":"hi","type":"quantitative","axis":{"orient":"right","tickCount":100,"grid":false,"labels":false,"title":null,"offset":-4,"tickSize":4,"tickOpacity":{"condition":{"test":"abs(log(datum.value)/LN10-round(log(datum.value)/LN10))<0.001","value":0},"value":1}}}}},
{"data":{"name":"labels"},"transform":[{"filter":"datum.p=='L6'"}],"mark":{"type":"text","fontSize":21,"fontWeight":"bold","color":"#3c1a8e","align":"center","baseline":"alphabetic"},"encoding":{"x":{"datum":185,"type":"quantitative","axis":null},"y":{"datum":1700,"type":"quantitative","axis":null},"text":{"field":"t"}}}
]},
{"width":476,"height":179,"transform":[{"filter":"datum.p=='R6'"}],"resolve":{"axis":{"x":"independent","y":"independent"}},
"layer":[
{"mark":{"type":"bar","width":21.3,"fill":"#0000ff","fillOpacity":0.12,"clip":true},
"encoding":{"x":{"field":"e","type":"quantitative","scale":{"domain":[100,547],"nice":false,"zero":false},"axis":{"orient":"bottom","values":[100,150,200,250,300,350,400,450,500],"grid":true,"ticks":false,"labelFontSize":14,"labelPadding":4,"title":"Energie (MeV)","titleFontSize":21.5,"titleFontWeight":"normal","titleX":476,"titleY":24,"titleAlign":"right","titleBaseline":"alphabetic"}},
"y":{"field":"hi","type":"quantitative","scale":{"type":"log","domain":[1.5e-6,5e4],"nice":false},"axis":{"orient":"left","tickCount":100,"grid":true,"gridOpacity":{"condition":{"test":"abs(log(datum.value)/LN10-round(log(datum.value)/LN10))<0.001","value":1},"value":0},"tickSize":{"condition":{"test":"abs(log(datum.value)/LN10-round(log(datum.value)/LN10))<0.001","value":6},"value":3},"labelExpr":"abs(log(datum.value)/LN10-round(log(datum.value)/LN10))<0.001 ? (round(log(datum.value)/LN10)==0 ? '1' : round(log(datum.value)/LN10)==1 ? '10' : '10'+(datum.value<1 ? '⁻' : '')+['⁰','¹','²','³','⁴','⁵','⁶','⁷','⁸','⁹'][abs(round(log(datum.value)/LN10))]) : ''","labelFontSize":13,"labelPadding":2,"title":"mb/(sr*MeV)","titleFontSize":21,"titleAngle":-90,"titleX":-44,"titleY":-2,"titleAlign":"right","titleBaseline":"middle"}},
"y2":{"field":"lo"}}},
{"mark":{"type":"rule","stroke":"#0000ff","strokeWidth":3.5,"clip":true},"encoding":{"x":{"field":"e","type":"quantitative","axis":null},"y":{"field":"lo","type":"quantitative","axis":{"orient":"right","tickCount":100,"grid":false,"labels":false,"title":null,"offset":-8,"tickSize":8,"tickOpacity":{"condition":{"test":"abs(log(datum.value)/LN10-round(log(datum.value)/LN10))<0.001","value":1},"value":0}}},"y2":{"field":"hi"}}},
{"mark":{"type":"tick","orient":"horizontal","size":8,"thickness":2.5,"clip":true},"encoding":{"x":{"field":"e","type":"quantitative","axis":null},"y":{"field":"hi","type":"quantitative","axis":{"orient":"right","tickCount":100,"grid":false,"labels":false,"title":null,"offset":-4,"tickSize":4,"tickOpacity":{"condition":{"test":"abs(log(datum.value)/LN10-round(log(datum.value)/LN10))<0.001","value":0},"value":1}}}}},
{"data":{"name":"labels"},"transform":[{"filter":"datum.p=='R6'"}],"mark":{"type":"text","fontSize":21,"fontWeight":"bold","color":"#3c1a8e","align":"center","baseline":"alphabetic"},"encoding":{"x":{"datum":185,"type":"quantitative","axis":null},"y":{"datum":1700,"type":"quantitative","axis":null},"text":{"field":"t"}}}
]}
],
"config": {
"view": {"stroke": "black", "strokeWidth": 2},
"font": "Liberation Sans",
"axis": {"domain": false, "labelFont": "Liberation Sans", "titleFont": "Liberation Sans", "labelColor": "black", "titleColor": "black", "titleFontWeight": "normal", "gridColor": "black", "gridDash": [2,3], "gridWidth": 1, "tickColor": "black", "tickWidth": 1, "labelOverlap": false, "labelBound": false, "labelFlush": false},
"tick": {"color": "#0000ff", "opacity": 1},
"text": {"font": "Liberation Sans"}
}
}
